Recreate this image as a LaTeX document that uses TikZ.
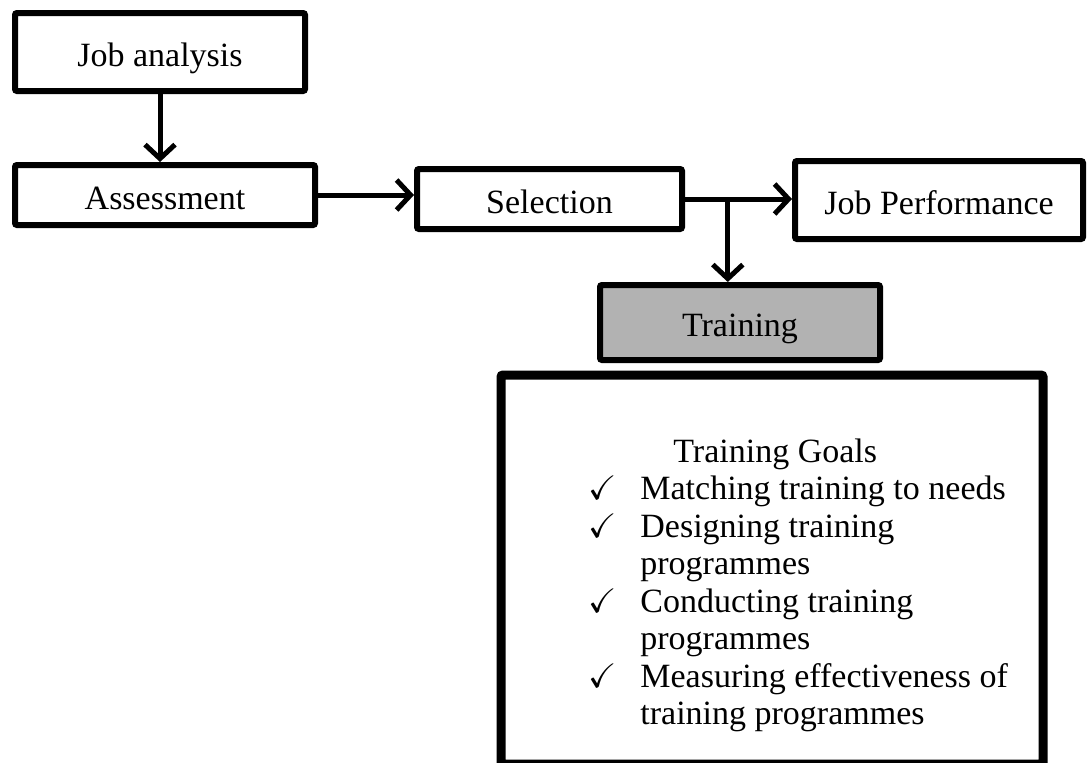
\documentclass[tikz,border=0pt]{standalone}
\usepackage{fontspec}
\usepackage{amssymb}
\setmainfont{Liberation Serif}
\usetikzlibrary{arrows.meta,positioning,calc}
\definecolor{trainfill}{RGB}{178,178,178}

\begin{document}
\begin{tikzpicture}[x=0.5pt, y=-0.5pt, every node/.style={font=\fontsize{17}{18.75}\selectfont},
    box/.style={draw, line width=3pt, rounded corners=1pt, inner sep=0pt, text height=14pt, text depth=0pt},
    link/.style={line width=2.5pt, -{Straight Barb[length=7pt,width=15pt]}}]
    \useasboundingbox (0,0) rectangle (1088,762);

    \node[box, minimum width=145pt, minimum height=39pt] (job) at (160,52) {Job analysis};
    \node[box, minimum width=150pt, minimum height=30pt] (assess) at (165,195) {Assessment};
    \node[box, minimum width=132.5pt, minimum height=30pt] (select) at (549.5,199) {Selection};
    \node[box, minimum width=144pt, minimum height=39pt] (perf) at (939,200) {Job Performance};
    \node[box, fill=trainfill, minimum width=140pt, minimum height=37.5pt] (train) at (740,322.5) {Training};
    \node[box, line width=4.5pt, minimum width=271pt, minimum height=194.5pt] (goals) at (772,569.5) {};

    % goals list
    \node[anchor=base west, inner sep=0pt] (goallist) at (588,462) {%
      \begin{tabular}[t]{@{}p{26pt}@{}l@{}}
        \multicolumn{2}{@{\hspace{42.5pt}}l@{}}{Training Goals}\\
        $\checkmark$ & Matching training to needs\\
        $\checkmark$ & Designing training\\
                     & programmes\\
        $\checkmark$ & Conducting training\\
                     & programmes\\
        $\checkmark$ & Measuring effectiveness of\\
                     & training programmes
      \end{tabular}};

    \draw[link] (job.south) -- (job.south |- assess.north);
    \draw[link] (assess.east) -- (assess.east -| select.west);
    \draw[link] (select.east) -- (select.east -| perf.west);
    \coordinate (split) at ($(select.east)!0.4!(select.east -| perf.west)$);
    \draw[link] (split) -- (split |- train.north);
  \end{tikzpicture}
\end{document}
